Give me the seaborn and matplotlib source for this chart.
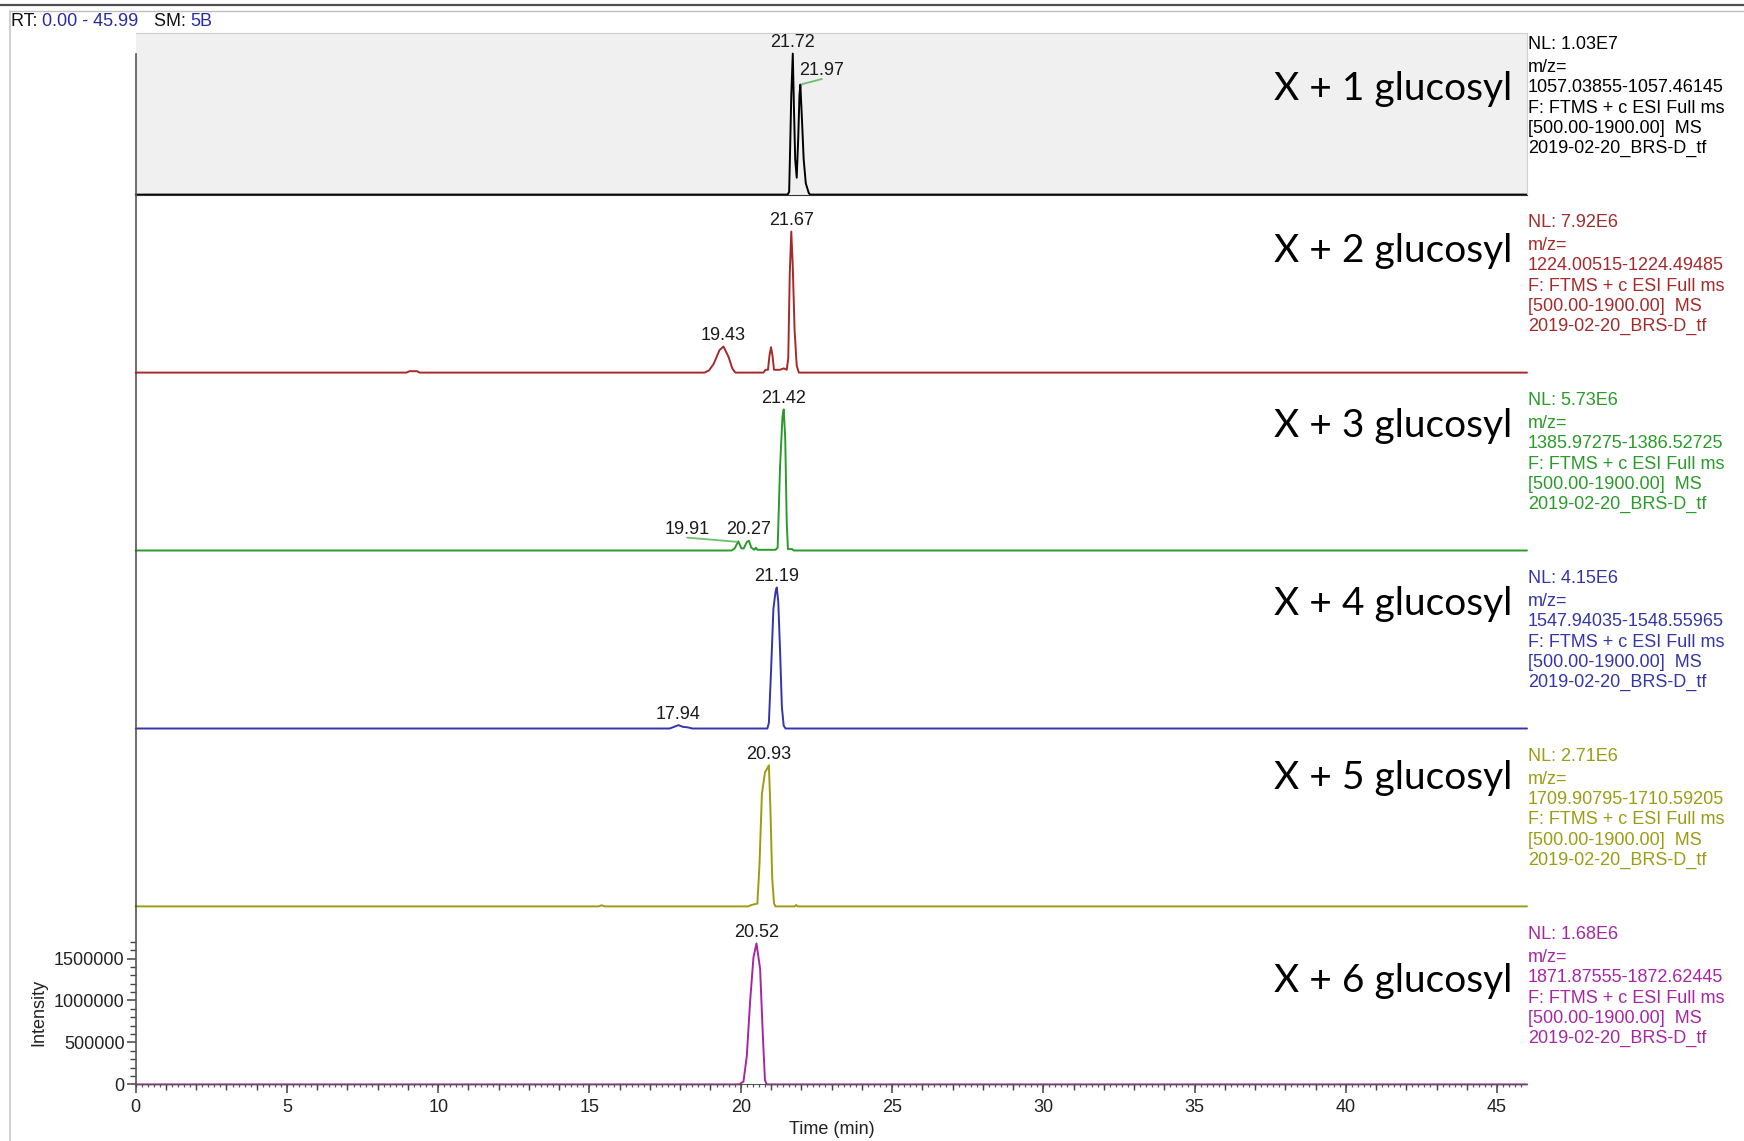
import numpy as np
import pandas as pd
import matplotlib
matplotlib.use('Agg')
import matplotlib.pyplot as plt
import matplotlib.ticker as ticker
from matplotlib.lines import Line2D
import seaborn as sns

# chromatogram traces: time (min) and % of NL
time_1 = [0, 21.55, 21.6, 21.63, 21.67, 21.72, 21.76, 21.8, 21.85, 21.9, 21.94, 21.97, 22.02, 22.08, 22.15, 22.25, 22.3, 45.99]
rel_1 = [0, 0, 2, 30, 70, 100, 60, 25, 12, 40, 70, 78, 55, 25, 8, 1, 0, 0]

time_2 = [0, 8.95, 9.05, 9.3, 9.38, 18.8, 18.95, 19.1, 19.3, 19.43, 19.6, 19.72, 19.82, 20.75, 20.82, 20.9,
          20.95, 21.0, 21.05, 21.1, 21.3, 21.42, 21.52, 21.57, 21.62, 21.67, 21.72, 21.78, 21.85, 21.92, 45.99]
rel_2 = [0, 0, 1, 1, 0, 0, 1.5, 6, 16, 18.5, 11, 3, 0, 0, 2, 2,
         12, 18, 12, 2, 2, 3, 2, 10, 70, 100, 75, 30, 5, 0, 0]

time_3 = [0, 19.7, 19.8, 19.92, 20.02, 20.1, 20.2, 20.27, 20.35, 20.45, 20.5, 20.55, 21.15, 21.22, 21.3,
          21.38, 21.42, 21.47, 21.52, 21.56, 21.7, 21.75, 45.99]
rel_3 = [0, 0, 1.5, 6.5, 1.5, 1.5, 6, 7, 2, 0.5, 2, 0.5, 0.5, 2, 60,
         95, 100, 80, 20, 1, 1, 0, 0]

time_4 = [0, 17.65, 17.8, 17.94, 18.08, 18.25, 18.4, 20.88, 20.93, 21.0, 21.08, 21.15, 21.19, 21.24, 21.3,
          21.36, 21.42, 21.48, 45.99]
rel_4 = [0, 0, 1.2, 2.4, 1.2, 0.8, 0, 0, 4, 40, 85, 97, 100, 90, 55,
         15, 2, 0, 0]

time_5 = [0, 15.3, 15.4, 15.5, 20.25, 20.35, 20.55, 20.62, 20.7, 20.8, 20.88, 20.93, 20.98, 21.04, 21.1,
          21.15, 21.78, 21.83, 21.88, 45.99]
rel_5 = [0, 0, 0.8, 0, 0, 1, 2, 30, 80, 95, 98, 100, 70, 20, 2,
         0, 0, 1, 0, 0]

time_6 = [0, 19.95, 20.09, 20.2, 20.31, 20.42, 20.52, 20.64, 20.73, 20.8, 20.86, 45.99]
rel_6 = [0, 0, 2, 20, 59, 90, 100, 82, 35, 3, 0, 0]

traces_t = [time_1, time_2, time_3, time_4, time_5, time_6]
traces_r = [rel_1, rel_2, rel_3, rel_4, rel_5, rel_6]

nl_values = [1.03e7, 7.92e6, 5.73e6, 4.15e6, 2.71e6, 1.68e6]
nl_text = ['1.03E7', '7.92E6', '5.73E6', '4.15E6', '2.71E6', '1.68E6']
mz_text = ['1057.03855-1057.46145', '1224.00515-1224.49485', '1385.97275-1386.52725',
           '1547.94035-1548.55965', '1709.90795-1710.59205', '1871.87555-1872.62445']
glucosyl = ['X + 1 glucosyl', 'X + 2 glucosyl', 'X + 3 glucosyl',
            'X + 4 glucosyl', 'X + 5 glucosyl', 'X + 6 glucosyl']
peak_labels = [['21.72', '21.97'], ['19.43', '21.67'], ['19.91', '20.27', '21.42'],
               ['17.94', '21.19'], ['20.93'], ['20.52']]
colors = ['#000000', '#a52a2a', '#2a9a2a', '#3535a8', '#9c9c14', '#a626a4']

# layout in pixels
W, H = 1744, 1141
x_left, x_right = 135.7, 1527.0
baselines = [194.6, 372.6, 550.5, 728.5, 906.4, 1084.4]
tops = [33.4] + baselines[:-1]
px_full = 141.0  # pixels for 100 %
label_base_y = [100, 262, 437, 615, 789, 992]
side_offsets = [27.7, 51.0, 71.3, 91.6, 111.9, 132.2]
moved = {'21.97': (21.5, 9.6), '19.91': (-50.8, 8.3)}  # pixel offsets of displaced labels

sns.set_style('white')
plt.rcParams['font.family'] = ['Liberation Sans', 'DejaVu Sans']
fs = 13

fig = plt.figure(figsize=(W / 100, H / 100), dpi=100)

axes = []
for i in range(6):
    b, t = baselines[i], tops[i]
    ax = fig.add_axes([x_left / W, 1 - b / H, (x_right - x_left) / W, (b - t) / H])
    nl = nl_values[i]
    df = pd.DataFrame({'time': traces_t[i], 'intensity': np.array(traces_r[i]) * nl / 100})
    sns.lineplot(data=df, x='time', y='intensity', ax=ax, color=colors[i], lw=1.4,
                 estimator=None, sort=False)
    ax.lines[-1].set_clip_on(False)
    ax.set_xlim(0, 45.99)
    ax.set_ylim(0, nl * (b - t) / px_full)
    ax.set_xlabel('')
    ax.set_ylabel('')
    for s in ['top', 'right', 'bottom']:
        ax.spines[s].set_visible(False)
    ax.spines['left'].set_color('#555555')
    ax.spines['left'].set_linewidth(1.2)
    ax.patch.set_alpha(0)

    # retention time labels
    for lbl in peak_labels[i]:
        pt = float(lbl)
        py = np.interp(pt, traces_t[i], np.array(traces_r[i]) * nl / 100)
        if lbl in moved:
            dx, dy = moved[lbl]
            ax.annotate(lbl, xy=(pt, py), xytext=(dx * 0.72, dy * 0.72), textcoords='offset points',
                        ha='center', va='baseline', fontsize=fs, color='#1a1a1a', annotation_clip=False,
                        arrowprops=dict(arrowstyle='-', color='#6cc06c', lw=1.3, shrinkA=0, shrinkB=1,
                                        relpos=(0.5, 0), patchA=None))
        else:
            ax.annotate(lbl, xy=(pt, py), xytext=(0, 4.5), textcoords='offset points',
                        ha='center', va='baseline', fontsize=fs, color='#1a1a1a', annotation_clip=False)

    # side text block
    top_nominal = b - 178
    lines = ['NL: ' + nl_text[i], 'm/z=', mz_text[i], 'F: FTMS + c ESI Full ms',
             '[500.00-1900.00]  MS', '2019-02-20_BRS-D_tf']
    for k, line in enumerate(lines):
        fig.text(1528 / W, 1 - (top_nominal + side_offsets[k]) / H, line, ha='left', va='center',
                 fontsize=fs, color=colors[i])

    fig.text(1512.6 / W, 1 - label_base_y[i] / H, glucosyl[i], ha='right', va='baseline',
             fontsize=28, family=['Lato', 'DejaVu Sans'], color='black')

    if i < 5:
        ax.tick_params(left=False, bottom=False, labelleft=False, labelbottom=False)
    axes.append(ax)

# top panel: grey box
ax0 = axes[0]
ax0.patch.set_alpha(1)
ax0.set_facecolor('#f0f0f0')
ax0.spines['top'].set_visible(True)
ax0.spines['right'].set_visible(True)
ax0.spines['top'].set_color('#cfcfcf')
ax0.spines['right'].set_color('#cfcfcf')
ax0.spines['bottom'].set_visible(True)
ax0.spines['bottom'].set_color('#333333')
ax0.spines['left'].set_bounds(0, nl_values[0])

# bottom panel axes
axb = axes[5]
axb.spines['bottom'].set_visible(True)
axb.spines['bottom'].set_color('#555555')
axb.xaxis.set_major_locator(ticker.MultipleLocator(5))
axb.xaxis.set_minor_locator(ticker.MultipleLocator(1))
axb.yaxis.set_major_locator(ticker.FixedLocator([0, 500000, 1000000, 1500000]))
axb.yaxis.set_minor_locator(ticker.FixedLocator(np.arange(0, 1700001, 100000)))
axb.yaxis.set_major_formatter(ticker.FuncFormatter(lambda v, p: '%d' % v))
axb.xaxis.set_major_formatter(ticker.FuncFormatter(lambda v, p: '%d' % v))
axb.tick_params(axis='both', which='major', length=6.5, width=1.1, color='#444444',
                labelsize=fs, labelcolor='#222222', left=True, bottom=True, direction='out')
axb.tick_params(axis='y', which='major', pad=1.5)
axb.tick_params(axis='x', which='major', pad=4)
axb.tick_params(axis='both', which='minor', length=4, width=1.0, color='#444444',
                left=True, bottom=True, direction='out')
sec = axb.secondary_xaxis('bottom')
sec.xaxis.set_major_locator(ticker.MultipleLocator(0.2))
sec.tick_params(length=2.2, width=0.9, color='#555555', labelbottom=False)
for s in sec.spines.values():
    s.set_visible(False)

fig.text(39 / W, 1 - 1012 / H, 'Intensity', rotation=90, ha='center', va='center', fontsize=fs, color='#222222')
fig.text(832 / W, 1 - 1129 / H, 'Time (min)', ha='center', va='center', fontsize=fs, color='#222222')

# window frame
fig.add_artist(Line2D([0, 1], [1 - 4.5 / H] * 2, color='#505050', lw=1.6))
fig.add_artist(Line2D([9.5 / W, 1], [1 - 11 / H] * 2, color='#c0c0c0', lw=1.0))
fig.add_artist(Line2D([9.5 / W] * 2, [1 - 11 / H, 0], color='#c8c8c8', lw=1.2))

# header
fig.canvas.draw()
renderer = fig.canvas.get_renderer()
x = 11
for piece, c in [('RT: ', '#111111'), ('0.00 - 45.99', '#2a2aa8'), ('   SM: ', '#111111'), ('5B', '#2a2aa8')]:
    tx = fig.text(x / W, 1 - 22 / H, piece, ha='left', va='center', fontsize=fs, color=c)
    bb = tx.get_window_extent(renderer)
    x = bb.x1

fig.savefig('out.png', dpi=100)
